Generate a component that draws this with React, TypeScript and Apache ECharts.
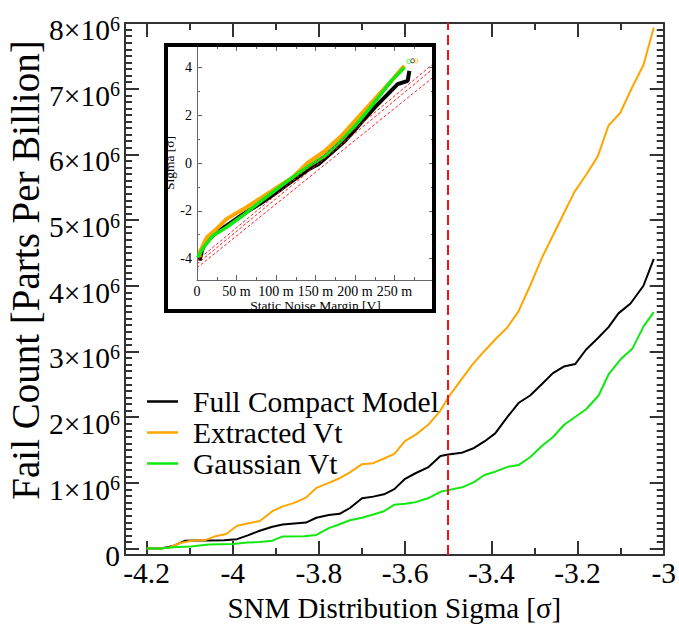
import React, { useEffect, useRef } from 'react';
import * as echarts from 'echarts';

const FONT = 'Liberation Serif';

// Main plot: [SNM distribution sigma, fail count in units of 10^6 parts per billion]
const fullCompactModel: [number, number][] = [
  [-4.2, 0], [-4.167, 0], [-4.138, 0.04], [-4.11, 0.12], [-4.093, 0.123], [-4.056, 0.123],
  [-4.02, 0.125], [-3.99, 0.143], [-3.965, 0.2], [-3.941, 0.262], [-3.908, 0.331], [-3.884, 0.365],
  [-3.857, 0.38], [-3.83, 0.395], [-3.806, 0.469], [-3.777, 0.509], [-3.752, 0.528], [-3.728, 0.617],
  [-3.7, 0.765], [-3.674, 0.79], [-3.649, 0.825], [-3.625, 0.904], [-3.6, 1.062], [-3.576, 1.146],
  [-3.547, 1.235], [-3.518, 1.407], [-3.5, 1.432], [-3.469, 1.457], [-3.44, 1.531], [-3.416, 1.63],
  [-3.391, 1.753], [-3.366, 1.975], [-3.337, 2.215], [-3.31, 2.33], [-3.283, 2.5], [-3.257, 2.67],
  [-3.232, 2.77], [-3.205, 2.81], [-3.18, 3.03], [-3.153, 3.2], [-3.128, 3.37], [-3.105, 3.58],
  [-3.077, 3.73], [-3.047, 4.0], [-3.023, 4.41],
];
const extractedVt: [number, number][] = [
  [-4.2, 0], [-4.167, 0], [-4.145, 0.02], [-4.122, 0.084], [-4.093, 0.123], [-4.065, 0.125],
  [-4.04, 0.188], [-4.015, 0.222], [-3.99, 0.346], [-3.937, 0.42], [-3.908, 0.568], [-3.884, 0.642],
  [-3.859, 0.691], [-3.83, 0.775], [-3.806, 0.923], [-3.777, 1.0], [-3.752, 1.07], [-3.728, 1.16],
  [-3.7, 1.284], [-3.674, 1.3], [-3.649, 1.37], [-3.625, 1.44], [-3.6, 1.64], [-3.576, 1.73],
  [-3.547, 1.88], [-3.518, 2.1], [-3.5, 2.3], [-3.471, 2.56], [-3.444, 2.8], [-3.417, 3.0],
  [-3.39, 3.19], [-3.363, 3.365], [-3.337, 3.61], [-3.31, 4.0], [-3.283, 4.42], [-3.256, 4.78],
  [-3.232, 5.1], [-3.207, 5.43], [-3.18, 5.69], [-3.153, 5.97], [-3.128, 6.44], [-3.101, 6.63],
  [-3.074, 7.01], [-3.047, 7.36], [-3.023, 7.93],
];
const gaussianVt: [number, number][] = [
  [-4.2, 0], [-4.167, 0], [-4.138, 0.02], [-4.097, 0.03], [-4.056, 0.06], [-4.0, 0.07],
  [-3.966, 0.09], [-3.937, 0.1], [-3.908, 0.12], [-3.884, 0.185], [-3.834, 0.188], [-3.806, 0.207],
  [-3.777, 0.311], [-3.752, 0.37], [-3.728, 0.43], [-3.7, 0.469], [-3.674, 0.519], [-3.649, 0.568],
  [-3.625, 0.667], [-3.6, 0.681], [-3.576, 0.706], [-3.547, 0.765], [-3.518, 0.864], [-3.5, 0.889],
  [-3.465, 0.938], [-3.44, 1.012], [-3.416, 1.12], [-3.391, 1.17], [-3.362, 1.244], [-3.337, 1.27],
  [-3.31, 1.39], [-3.283, 1.56], [-3.258, 1.69], [-3.231, 1.885], [-3.204, 2.01], [-3.18, 2.12],
  [-3.151, 2.33], [-3.128, 2.65], [-3.1, 2.88], [-3.073, 3.04], [-3.046, 3.39], [-3.023, 3.6],
];
const thresholdSigma = -3.5;

// Inset: [static noise margin (V), sigma]
const insetFullCompact: [number, number][] = [
  [0.0033, -4.09], [0.0063, -3.67], [0.0104, -3.32], [0.025, -2.9], [0.0375, -2.62], [0.058, -2.15],
  [0.079, -1.72], [0.1, -1.25], [0.121, -0.74], [0.142, -0.25], [0.154, -0.04], [0.1875, 0.93],
  [0.225, 2.33], [0.254, 3.3], [0.2667, 3.44], [0.2688, 3.86],
];
const insetExtracted: [number, number][] = [
  [0.0033, -3.95], [0.0033, -3.74], [0.0125, -3.11], [0.025, -2.75], [0.0375, -2.34], [0.058, -1.95],
  [0.079, -1.5], [0.1, -1.05], [0.121, -0.6], [0.14, 0.0], [0.1625, 0.52], [0.183, 1.14],
  [0.204, 1.91], [0.225, 2.68], [0.246, 3.44], [0.2625, 4.07],
];
const insetGaussian: [number, number][] = [
  [0.0008, -3.95], [0.0083, -3.53], [0.02, -3.05], [0.0375, -2.69], [0.058, -2.2], [0.079, -1.65],
  [0.1, -1.12], [0.121, -0.6], [0.142, -0.12], [0.1625, 0.31], [0.183, 0.95], [0.204, 1.7],
  [0.225, 2.55], [0.246, 3.44], [0.2625, 4.0],
];
const insetOutliers: [number, number, string][] = [
  [0.273, 4.28, '#000000'], [0.277, 4.28, '#ffa500'], [0.268, 4.25, '#11e811'],
];
const insetFits: [number, number][][] = [
  [[0, -4.09], [0.3, 4.18]],
  [[0, -4.23], [0.3, 3.98]],
  [[0, -4.39], [0.3, 3.62]],
];

const BLACK = '#000000';
const ORANGE = '#ffa500';
const GREEN = '#11e811';
const AXIS = '#333333';

function tickAxis(base: any, len: number, width: number, color: string, showLine: boolean) {
  return {
    type: 'value',
    ...base,
    axisLine: { show: showLine, onZero: false, lineStyle: { color, width } },
    axisTick: { show: true, inside: true, length: len, lineStyle: { color, width } },
    axisLabel: { show: false },
    splitLine: { show: false },
  };
}

export default function App() {
  const ref = useRef<HTMLDivElement>(null);
  useEffect(() => {
    if (!ref.current) return;
    const chart = echarts.init(ref.current, undefined, { renderer: 'svg' });
    const mainX = { gridIndex: 0, min: -4.25, max: -3 };
    const mainY = { gridIndex: 0, min: -0.1, max: 8 };
    const insX = { gridIndex: 1, min: 0, max: 0.3 };
    const insY = { gridIndex: 1, min: -4.9, max: 4.9 };
    const option: any = {
      animation: false,
      textStyle: { fontFamily: FONT },
      grid: [
        { left: 125, right: 12, top: 23, bottom: 63 },
        { left: 197, top: 46, width: 237, height: 234 },
      ],
      xAxis: [
        {
          ...tickAxis({ ...mainX, splitNumber: 6, position: 'bottom' }, 14, 2, AXIS, true),
          axisLabel: { show: true, fontSize: 29.5, color: '#000', margin: 3, showMinLabel: false, fontFamily: FONT },
          name: 'SNM Distribution Sigma [σ]',
          nameLocation: 'middle',
          nameGap: 28,
          nameTextStyle: { fontSize: 29, color: '#000', fontFamily: FONT },
        },
        tickAxis({ ...mainX, splitNumber: 12, position: 'bottom' }, 7, 2, AXIS, false),
        tickAxis({ ...mainX, splitNumber: 6, position: 'top' }, 14, 2, AXIS, true),
        tickAxis({ ...mainX, splitNumber: 12, position: 'top' }, 7, 2, AXIS, false),
        {
          ...tickAxis({ ...insX, interval: 0.05, position: 'bottom' }, 5, 1, '#666', true),
          minorTick: { show: true, splitNumber: 2, length: 3, lineStyle: { color: '#666', width: 1 } },
          axisLabel: {
            show: true, fontSize: 14, color: '#000', margin: 4, showMaxLabel: false, fontFamily: FONT,
            formatter: (v: number) => (v === 0 ? '0' : `${Math.round(v * 1000)} m`),
          },
          name: 'Static Noise Margin [V]',
          nameLocation: 'middle',
          nameGap: 14,
          nameTextStyle: { fontSize: 13.5, color: '#000', fontFamily: FONT },
        },
        {
          ...tickAxis({ ...insX, interval: 0.05, position: 'top' }, 5, 1, '#666', false),
          minorTick: { show: true, splitNumber: 2, length: 3, lineStyle: { color: '#666', width: 1 } },
        },
      ],
      yAxis: [
        {
          ...tickAxis({ ...mainY, splitNumber: 8, position: 'left' }, 14, 2, AXIS, true),
          axisLabel: {
            show: true, margin: 5, showMinLabel: false, padding: [14, 0, 0, 0],
            formatter: (v: number) => (v === 0 ? '{a|0}' : `{a|${v}×10}{b|6}`),
            rich: {
              a: { fontSize: 29.5, fontFamily: FONT, color: '#000', lineHeight: 33 },
              b: { fontSize: 20, fontFamily: FONT, color: '#000', lineHeight: 20, verticalAlign: 'top' },
            },
          },
        },
        tickAxis({ ...mainY, interval: 0.1, position: 'left' }, 7, 2, AXIS, false),
        tickAxis({ ...mainY, splitNumber: 8, position: 'right' }, 14, 2, AXIS, true),
        tickAxis({ ...mainY, interval: 0.1, position: 'right' }, 7, 2, AXIS, false),
        {
          ...tickAxis({ ...insY, splitNumber: 5, position: 'left' }, 5, 1, '#666', true),
          axisLabel: { show: true, fontSize: 14, color: '#000', margin: 5, showMinLabel: false, showMaxLabel: false, fontFamily: FONT },
          name: 'Sigma [σ]',
          nameLocation: 'middle',
          nameGap: 18,
          nameTextStyle: { fontSize: 13.5, color: '#000', fontFamily: FONT },
        },
        tickAxis({ ...insY, splitNumber: 10, position: 'left' }, 3, 1, '#666', false),
        tickAxis({ ...insY, splitNumber: 5, position: 'right' }, 5, 1, '#666', false),
        tickAxis({ ...insY, splitNumber: 10, position: 'right' }, 3, 1, '#666', false),
      ],
      legend: {
        data: ['Full Compact Model', 'Extracted Vt', 'Gaussian Vt'],
        orient: 'vertical',
        left: 147,
        top: 386,
        padding: 0,
        icon: 'rect',
        itemWidth: 31,
        itemHeight: 2.5,
        itemGap: 0,
        textStyle: { fontSize: 29.5, color: '#000', fontFamily: FONT, lineHeight: 31, padding: [0, 0, 0, 10] },
      },
      series: [
        {
          name: 'Full Compact Model', type: 'line', xAxisIndex: 0, yAxisIndex: 0, data: fullCompactModel,
          symbol: 'none', lineStyle: { color: BLACK, width: 2 }, itemStyle: { color: BLACK }, z: 3,
          markLine: {
            silent: true, symbol: 'none', label: { show: false },
            lineStyle: { color: '#ff1010', width: 2, type: [10, 5] },
            data: [{ xAxis: thresholdSigma }],
          },
        },
        {
          name: 'Extracted Vt', type: 'line', xAxisIndex: 0, yAxisIndex: 0, data: extractedVt,
          symbol: 'none', lineStyle: { color: ORANGE, width: 2 }, itemStyle: { color: ORANGE }, z: 3,
        },
        {
          name: 'Gaussian Vt', type: 'line', xAxisIndex: 0, yAxisIndex: 0, data: gaussianVt,
          symbol: 'none', lineStyle: { color: GREEN, width: 2 }, itemStyle: { color: GREEN }, z: 3,
        },
        {
          name: 'inset-full', type: 'line', xAxisIndex: 4, yAxisIndex: 4, data: insetFullCompact,
          symbol: 'none', lineStyle: { color: BLACK, width: 4 }, z: 4,
        },
        {
          name: 'inset-extracted', type: 'line', xAxisIndex: 4, yAxisIndex: 4, data: insetExtracted,
          symbol: 'none', lineStyle: { color: ORANGE, width: 4 }, z: 4,
        },
        {
          name: 'inset-gaussian', type: 'line', xAxisIndex: 4, yAxisIndex: 4, data: insetGaussian,
          symbol: 'none', lineStyle: { color: GREEN, width: 3.5 }, z: 5,
        },
        {
          name: 'inset-outliers', type: 'scatter', xAxisIndex: 4, yAxisIndex: 4,
          data: insetOutliers.map((p) => ({ value: [p[0], p[1]], itemStyle: { color: 'none', borderColor: p[2], borderWidth: 1 } })),
          symbolSize: 4, z: 5,
        },
        ...insetFits.map((d, i) => ({
          name: `inset-fit-${i}`, type: 'line', xAxisIndex: 4, yAxisIndex: 4, data: d,
          symbol: 'none', lineStyle: { color: '#ff2020', width: 1, type: [3, 2] }, z: 6,
        })),
      ],
      graphic: [
        {
          type: 'rect', z: 100,
          shape: { x: 166, y: 45, width: 268, height: 266 },
          style: { fill: 'none', stroke: '#000', lineWidth: 4 },
        },
        {
          type: 'text', x: 25, y: 270, rotation: Math.PI / 2, z: 100,
          style: { text: 'Fail Count [Parts Per Billion]', font: `39px ${FONT}`, fill: '#000', align: 'center', verticalAlign: 'middle' },
        },
      ],
    };
    chart.setOption(option);
    return () => chart.dispose();
  }, []);
  return <div ref={ref} style={{ width: 679, height: 627, position: 'absolute', left: 0, top: 0, background: '#fff' }} />;
}
